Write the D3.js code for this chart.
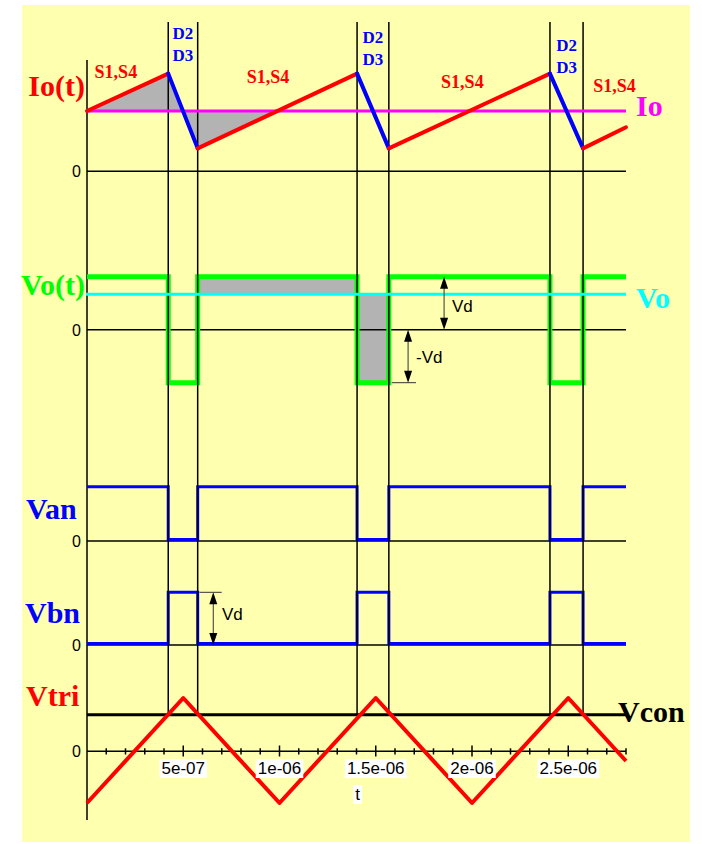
<!DOCTYPE html>
<html>
<head>
<meta charset="utf-8">
<script src="https://cdn.jsdelivr.net/npm/d3@7"></script>
<style>
  body { margin: 0; background: #fff; }
  svg { display: block; }
</style>
</head>
<body>
<svg width="702" height="844"></svg>
<script>
// ---- data ----
const tMax = 2.8e-6;
const switchTimes = [0.422e-6, 0.575e-6, 1.403e-6, 1.568e-6, 2.405e-6, 2.577e-6];

const ioTimes  = [0, 0.422e-6, 0.575e-6, 1.403e-6, 1.568e-6, 2.405e-6, 2.577e-6, 2.8e-6];
const ioValues = [1.0, 1.62, 0.38, 1.62, 0.38, 1.62, 0.38, 0.73];
const ioAvg = 1.0;
const ioGrayEnd = 0.99e-6;

const voLevels  = [1, -1, 1, -1, 1, -1, 1];
const voAvg = 0.67;
const vanLevels = [1, 0, 1, 0, 1, 0, 1];
const vbnLevels = [0, 1, 0, 1, 0, 1, 0];

const vtriTimes  = [0, 0.5e-6, 1e-6, 1.5e-6, 2e-6, 2.5e-6, 2.8e-6];
const vtriValues = [-1, 1, -1, 1, -1, 1, -0.2];
const vcon = 0.68;

const tickValues = [5e-7, 1e-6, 1.5e-6, 2e-6, 2.5e-6];
const tickLabels = ["5e-07", "1e-06", "1.5e-06", "2e-06", "2.5e-06"];

const sLabelTimes = [0.15e-6, 0.94e-6, 1.95e-6, 2.74e-6];
const sLabelBase  = [78, 83, 88, 92];
const dLabelBase  = [39, 43, 51];

const svg = d3.select("svg");
const serif = "'Liberation Serif', 'Times New Roman', serif";
const sans = "'Liberation Sans', Arial, sans-serif";

const x = d3.scaleLinear().domain([0, tMax]).range([87, 626]);
const yIo  = d3.scaleLinear().domain([0, 1]).range([171.3, 111]);
const yVo  = d3.scaleLinear().domain([-1, 1]).range([382.7, 276.7]);
const yVan = d3.scaleLinear().domain([0, 1]).range([541, 486.7]);
const yVbn = d3.scaleLinear().domain([0, 1]).range([645, 592.3]);
const yTri = d3.scaleLinear().domain([-1, 1]).range([803, 698]);

function stepPoints(levels) {
  const ts = [0, ...switchTimes, tMax];
  return ts.map((t, i) => [t, levels[Math.min(i, levels.length - 1)]]);
}

// background
svg.append("rect").attr("x", 22).attr("y", 5).attr("width", 668).attr("height", 837)
  .attr("fill", "#ffffb0");

const defs = svg.append("defs");
defs.append("clipPath").attr("id", "clipIo").append("rect")
  .attr("x", x(0)).attr("y", 0).attr("width", x(ioGrayEnd) - x(0)).attr("height", 844);
defs.append("clipPath").attr("id", "clipVo").append("rect")
  .attr("x", x(switchTimes[1])).attr("y", 0)
  .attr("width", x(switchTimes[3]) - x(switchTimes[1])).attr("height", 844);

const ioPts = ioTimes.map((t, i) => [t, ioValues[i]]);

// gray areas
svg.append("path")
  .datum(ioPts)
  .attr("clip-path", "url(#clipIo)")
  .attr("fill", "#b3b3b3")
  .attr("d", d3.area().x(d => x(d[0])).y0(yIo(ioAvg)).y1(d => yIo(d[1])));

svg.append("path")
  .datum(stepPoints(voLevels))
  .attr("clip-path", "url(#clipVo)")
  .attr("fill", "#b3b3b3")
  .attr("d", d3.area().curve(d3.curveStepAfter).x(d => x(d[0])).y0(yVo(voAvg)).y1(d => yVo(d[1])));

// zero lines
const zeros = [yIo(0), yVo(0), yVan(0), yVbn(0), yTri(0) + 0.7];
svg.append("g").selectAll("line").data(zeros).join("line")
  .attr("x1", x(0)).attr("x2", x(tMax)).attr("y1", d => d).attr("y2", d => d)
  .attr("stroke", "#000").attr("stroke-width", 1.5);

svg.append("g").selectAll("text").data(zeros).join("text")
  .attr("x", 81).attr("y", d => d + 6)
  .attr("text-anchor", "end")
  .attr("font-family", sans).attr("font-size", 16)
  .text("0");

// left axis
svg.append("line").attr("x1", x(0)).attr("x2", x(0)).attr("y1", 60).attr("y2", 820)
  .attr("stroke", "#000").attr("stroke-width", 1.5);

// ticks on Vtri zero axis
const minor = d3.range(1, 29).map(i => i * 1e-7);
const isMajor = d => Math.abs(d / 5e-7 - Math.round(d / 5e-7)) < 1e-6;
svg.append("g").selectAll("line").data(minor).join("line")
  .attr("x1", d => x(d)).attr("x2", d => x(d))
  .attr("y1", d => isMajor(d) ? 745.5 : 748.3)
  .attr("y2", d => isMajor(d) ? 756.5 : 754.5)
  .attr("stroke", "#000").attr("stroke-width", 1.5);

// Vo waveform
svg.append("path").datum(stepPoints(voLevels))
  .attr("fill", "none").attr("stroke", "#00ff00").attr("stroke-width", 5)
  .attr("d", d3.line().curve(d3.curveStepAfter).x(d => x(d[0])).y(d => yVo(d[1])));

// Van / Vbn
svg.append("path").datum(stepPoints(vanLevels))
  .attr("fill", "none").attr("stroke", "#0000ff").attr("stroke-width", 3)
  .attr("d", d3.line().curve(d3.curveStepAfter).x(d => x(d[0])).y(d => yVan(d[1]) - 1.5 * (d[1] === 0)));
svg.append("path").datum(stepPoints(vbnLevels))
  .attr("fill", "none").attr("stroke", "#0000ff").attr("stroke-width", 3)
  .attr("d", d3.line().curve(d3.curveStepAfter).x(d => x(d[0])).y(d => yVbn(d[1]) - 1.5 * (d[1] === 0)));

// Vcon line
svg.append("line").attr("x1", x(0)).attr("x2", x(tMax))
  .attr("y1", yTri(vcon)).attr("y2", yTri(vcon))
  .attr("stroke", "#000").attr("stroke-width", 3);

// switching instants
svg.append("g").selectAll("line").data(switchTimes).join("line")
  .attr("x1", d => x(d)).attr("x2", d => x(d))
  .attr("y1", 22).attr("y2", yTri(vcon))
  .attr("stroke", "#000").attr("stroke-width", 1.5);

// average lines
svg.append("line").attr("x1", x(0) - 1).attr("x2", x(tMax))
  .attr("y1", yIo(ioAvg)).attr("y2", yIo(ioAvg))
  .attr("stroke", "#ff00ff").attr("stroke-width", 3);
svg.append("line").attr("x1", x(0) - 1).attr("x2", x(tMax))
  .attr("y1", yVo(voAvg)).attr("y2", yVo(voAvg))
  .attr("stroke", "#00ffff").attr("stroke-width", 3);

// Io(t): rising in red, falling in blue
const segs = d3.pairs(ioPts);
svg.append("g").selectAll("line").data(segs).join("line")
  .attr("x1", d => x(d[0][0])).attr("y1", d => yIo(d[0][1]))
  .attr("x2", d => x(d[1][0])).attr("y2", d => yIo(d[1][1]))
  .attr("stroke", d => d[1][1] < d[0][1] ? "#0000ff" : "#ff0000")
  .attr("stroke-width", 4).attr("stroke-linecap", "round");

// Vtri
svg.append("path").datum(vtriTimes.map((t, i) => [t, vtriValues[i]]))
  .attr("fill", "none").attr("stroke", "#ff0000").attr("stroke-width", 4)
  .attr("stroke-linejoin", "round")
  .attr("d", d3.line().x(d => x(d[0])).y(d => yTri(d[1])));

// tick labels with white boxes
function boxedText(g, tx, ty, str) {
  const t = g.append("text").attr("x", tx).attr("y", ty)
    .attr("text-anchor", "middle")
    .attr("font-family", sans).attr("font-size", 17).text(str);
  const b = t.node().getBBox();
  g.insert("rect", "text").attr("x", b.x - 2).attr("y", b.y)
    .attr("width", b.width + 4).attr("height", b.height).attr("fill", "#fff");
}
tickValues.forEach((v, i) => {
  const g = svg.append("g");
  boxedText(g, x(v), 774, tickLabels[i]);
});
boxedText(svg.append("g"), 357.5, 800, "t");

// device labels
svg.append("g").selectAll("text").data(sLabelTimes).join("text")
  .attr("x", d => x(d)).attr("y", (d, i) => sLabelBase[i])
  .attr("text-anchor", "middle")
  .attr("font-family", serif).attr("font-weight", "bold").attr("font-size", 18)
  .attr("fill", "#ff0000")
  .text("S1,S4");

const dPairs = [[0, 1], [2, 3], [4, 5]];
dPairs.forEach((p, i) => {
  const cx = (x(switchTimes[p[0]]) + x(switchTimes[p[1]])) / 2;
  ["D2", "D3"].forEach((s, j) => {
    svg.append("text").attr("x", cx).attr("y", dLabelBase[i] + j * 22)
      .attr("text-anchor", "middle")
      .attr("font-family", serif).attr("font-weight", "bold").attr("font-size", 17)
      .attr("fill", "#0000ff").text(s);
  });
});

// big signal labels
function bigLabel(tx, ty, str, color, anchor) {
  svg.append("text").attr("x", tx).attr("y", ty)
    .attr("text-anchor", anchor || "start")
    .attr("font-family", serif).attr("font-weight", "bold").attr("font-size", 30)
    .attr("fill", color).text(str);
}
bigLabel(85, 96, "Io(t)", "#ff0000", "end");
bigLabel(85, 295, "Vo(t)", "#00ff00", "end");
bigLabel(26, 519, "Van", "#0000ff");
bigLabel(25, 623, "Vbn", "#0000ff");
bigLabel(26, 706, "Vtri", "#ff0000");
bigLabel(636, 116, "Io", "#ff00ff");
bigLabel(636, 308, "Vo", "#00ffff");
bigLabel(618, 722, "Vcon", "#000000");

// Vd arrows
function arrow(tx, yTop, yBot, label, lx, ly) {
  const ax = x(tx);
  svg.append("line").attr("x1", ax).attr("x2", ax).attr("y1", yTop + 10).attr("y2", yBot - 10)
    .attr("stroke", "#333").attr("stroke-width", 1);
  svg.append("path").attr("fill", "#000")
    .attr("d", `M${ax},${yTop} L${ax - 4},${yTop + 12} L${ax + 4},${yTop + 12} Z`);
  svg.append("path").attr("fill", "#000")
    .attr("d", `M${ax},${yBot} L${ax - 4},${yBot - 12} L${ax + 4},${yBot - 12} Z`);
  svg.append("text").attr("x", lx).attr("y", ly)
    .attr("font-family", sans).attr("font-size", 17).text(label);
}
arrow(1.855e-6, yVo(1), yVo(0), "Vd", 452, 312);
arrow(1.668e-6, yVo(0), yVo(-1), "-Vd", 416, 363);
svg.append("line").attr("x1", 391.7).attr("x2", 416).attr("y1", yVo(-1)).attr("y2", yVo(-1))
  .attr("stroke", "#333").attr("stroke-width", 1);
arrow(0.656e-6, yVbn(1), yVbn(0), "Vd", 222, 620);
svg.append("line").attr("x1", 199.5).attr("x2", 221.7).attr("y1", yVbn(1)).attr("y2", yVbn(1))
  .attr("stroke", "#333").attr("stroke-width", 1);
</script>
</body>
</html>
